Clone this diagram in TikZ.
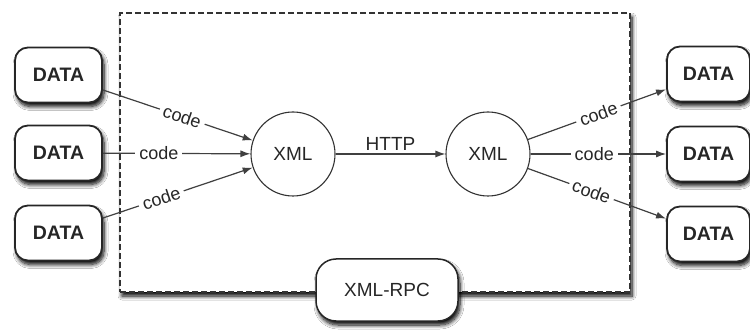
\documentclass[tikz,border=0pt]{standalone}
\usepackage{fontspec}
\setmainfont{Liberation Sans}
\usetikzlibrary{arrows.meta,shadows.blur}
\begin{document}
\begin{tikzpicture}[x=1pt,y=-1pt,
 databox/.style={draw=black!85, line width=1.8pt, fill=white, rounded corners=13pt,
   minimum width=87pt, minimum height=55pt, inner sep=0pt,
   font=\fontsize{19.5}{22}\selectfont\bfseries, text=black!85,
   blur shadow={shadow xshift=2pt, shadow yshift=-4pt, shadow blur steps=8, shadow blur radius=4pt, shadow opacity=100}},
 xmlnode/.style={circle, draw=black!80, line width=1.1pt, fill=white, minimum size=84pt,
   inner sep=0pt, font=\fontsize{19}{22}\selectfont, text=black!85},
 lbl/.style={fill=white, inner sep=4pt, font=\fontsize{18}{21}\selectfont, text=black!85},
 conn/.style={draw=black!75, line width=1.2pt, -{Latex[length=10pt,width=7pt]}},
 outer/.style={draw=black!80, line width=1.2pt, dash pattern=on 6pt off 3pt, fill=white,
   minimum width=510pt, minimum height=279pt, inner sep=0pt,
   blur shadow={shadow xshift=2pt, shadow yshift=-4pt, shadow blur steps=8, shadow blur radius=4pt, shadow opacity=100}},
]
\useasboundingbox (0,0) rectangle (750,331);
\fill[white] (0,0) rectangle (750,331);

\node[outer] (box) at (375,152.5) {};

\node[databox] (d1) at (58.5,75) {DATA};
\node[databox] (d2) at (58.5,153) {DATA};
\node[databox] (d3) at (58.5,233) {DATA};
\node[databox, minimum width=83pt] (d4) at (708.5,74) {DATA};
\node[databox, minimum width=83pt] (d5) at (708.5,154) {DATA};
\node[databox, minimum width=83pt] (d6) at (708.5,234) {DATA};

\node[xmlnode] (x1) at (293,154) {XML};
\node[xmlnode] (x2) at (488,154) {XML};

\node[databox, font=\fontsize{19}{22}\selectfont, line width=1.5pt, rounded corners=20pt,
  minimum width=142pt, minimum height=62pt] (rpc) at (387,290) {XML-RPC};

\draw[conn] (d1) -- node[lbl, sloped, pos=0.53] {code} (x1);
\draw[conn] (d2) -- node[lbl, pos=0.38] {code} (x1);
\draw[conn] (d3) -- node[lbl, sloped, pos=0.39] {code} (x1);
\draw[conn] (x1) -- node[above, font=\fontsize{19}{22}\selectfont, text=black!85, inner sep=3pt] {HTTP} (x2);
\draw[conn] (x2) -- node[lbl, sloped, pos=0.51] {code} (d4);
\draw[conn] (x2) -- node[lbl, pos=0.47] {code} (d5);
\draw[conn] (x2) -- node[lbl, sloped, pos=0.46] {code} (d6);
\end{tikzpicture}
\end{document}
